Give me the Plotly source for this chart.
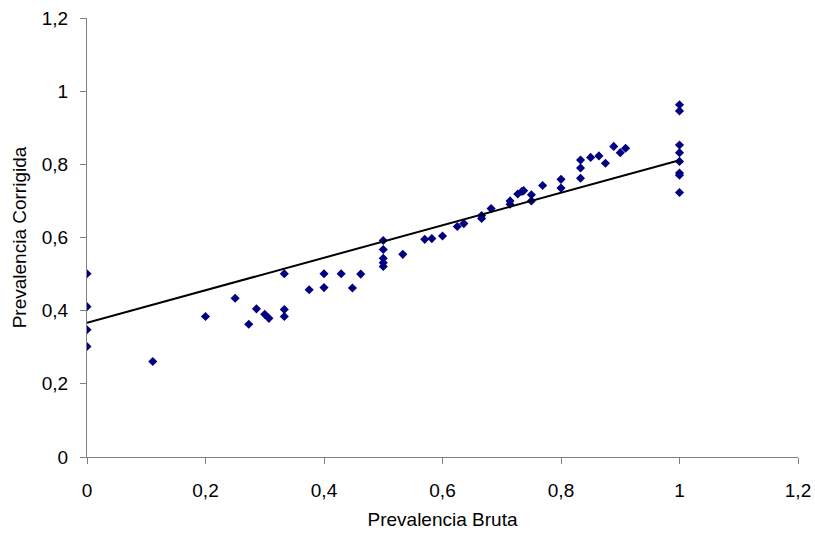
import plotly.graph_objects as go

# Scatter data: Prevalencia Bruta (x) vs Prevalencia Corrigida (y)
prev_bruta = [
    0.0, 0.0, 0.0, 0.0,
    0.111, 0.200, 0.250, 0.273, 0.286, 0.300, 0.307,
    0.333, 0.333, 0.333, 0.375, 0.400, 0.400, 0.429, 0.448, 0.462,
    0.500, 0.500, 0.500, 0.500, 0.500, 0.533, 0.570, 0.582, 0.600,
    0.625, 0.636, 0.666, 0.666, 0.682, 0.714, 0.714, 0.727, 0.734, 0.737,
    0.750, 0.750, 0.769, 0.800, 0.800, 0.833, 0.833, 0.833, 0.850,
    0.864, 0.875, 0.889, 0.900, 0.909,
    1.0, 1.0, 1.0, 1.0, 1.0, 1.0, 1.0, 1.0,
]
prev_corrigida = [
    0.501, 0.411, 0.348, 0.302,
    0.261, 0.384, 0.434, 0.363, 0.405, 0.390, 0.379,
    0.501, 0.403, 0.384, 0.457, 0.501, 0.463, 0.501, 0.462, 0.500,
    0.592, 0.567, 0.543, 0.531, 0.521, 0.554, 0.595, 0.597, 0.604,
    0.630, 0.638, 0.660, 0.652, 0.679, 0.700, 0.691, 0.719, 0.726, 0.728,
    0.717, 0.700, 0.742, 0.759, 0.735, 0.812, 0.790, 0.762, 0.819,
    0.823, 0.803, 0.849, 0.832, 0.844,
    0.963, 0.946, 0.853, 0.832, 0.808, 0.776, 0.770, 0.723,
]

# Linear trend line
trend_x = [0.0, 1.0]
trend_y = [0.367, 0.811]

x_ticks = [0, 0.2, 0.4, 0.6, 0.8, 1.0, 1.2]
y_ticks = [0, 0.2, 0.4, 0.6, 0.8, 1.0, 1.2]

FONT = "Liberation Sans, Arial, sans-serif"

fig = go.Figure()
fig.add_trace(go.Scatter(
    x=prev_bruta, y=prev_corrigida, mode="markers",
    marker=dict(symbol="diamond", size=7, color="#000080"),
    showlegend=False,
))
fig.add_trace(go.Scatter(
    x=trend_x, y=trend_y, mode="lines",
    line=dict(color="black", width=2),
    showlegend=False,
))

axis_common = dict(
    showgrid=False, zeroline=False, showline=True, automargin=False,
    linecolor="#808080", linewidth=1,
    ticks="outside", ticklen=6, tickcolor="#808080",
    tickfont=dict(family=FONT, size=19, color="black"),
)

fig.update_layout(
    width=815, height=540,
    margin=dict(l=87, r=17, t=18, b=83),
    paper_bgcolor="white", plot_bgcolor="white",
    separators=",.",
    font=dict(family=FONT, size=19, color="black"),
    xaxis=dict(range=[0, 1.2], tickvals=x_ticks, ticklabelstandoff=10,
               title=dict(text="Prevalencia Bruta", standoff=12,
                          font=dict(size=19)),
               **axis_common),
    yaxis=dict(range=[0, 1.2], tickvals=y_ticks, ticklabelstandoff=8,
               title=dict(text="Prevalencia Corrigida", standoff=10,
                          font=dict(size=19)),
               **axis_common),
)

fig.write_html("out.html")
